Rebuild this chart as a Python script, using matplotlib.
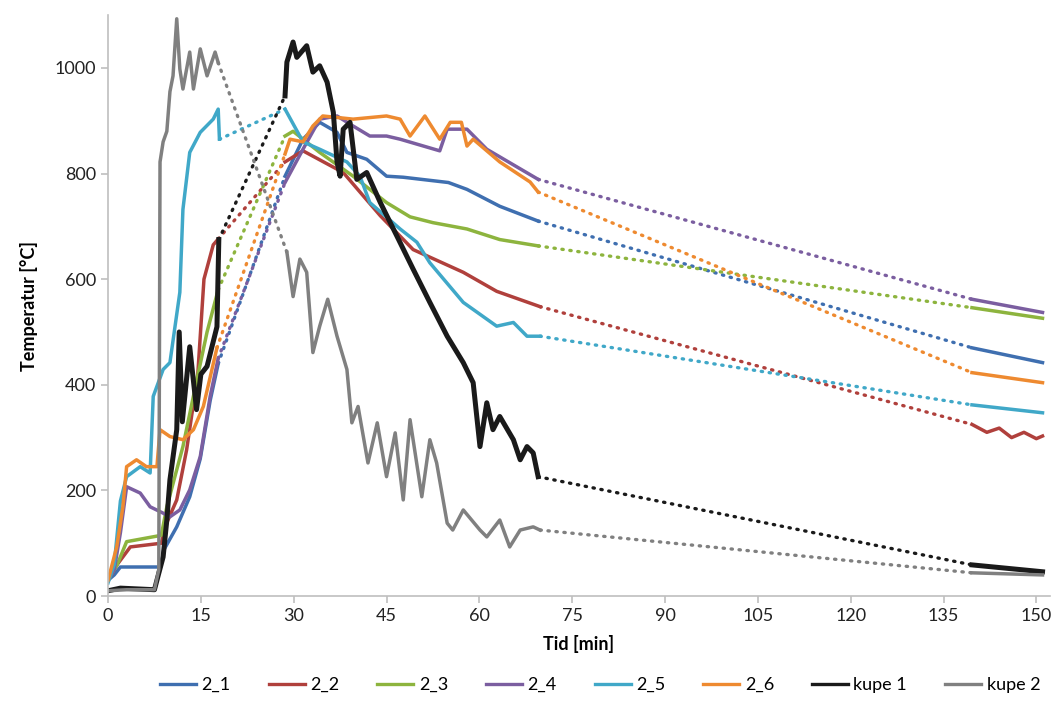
import numpy as np
import matplotlib
matplotlib.use("Agg")
import matplotlib.pyplot as plt
from matplotlib.lines import Line2D

nan = np.nan

# Tid [min] og temperatur [°C] per serie, nan = brudd mellom maaleperioder
t_21 = [0, 1, 2, 8.5, 9, 11.1, 13.2, 14.9, 16.5, 17.8, nan,
        28.6, 31.5, 34.2, 37, 38.6, 41.8, 45, 47.7, 55, 58, 63.3, 69.5, nan, 139.6, 151]
T_21 = [30, 40, 55, 55, 87, 131, 188, 260, 370, 440, nan,
        795, 865, 897, 878, 840, 827, 795, 793, 783, 770, 738, 710, nan, 470, 442]

t_22 = [0, 1.5, 3.6, 8.6, 9.5, 11.1, 12.7, 14.5, 15.5, 17, 17.8, nan,
        28.6, 31.5, 38, 44, 49.3, 57.4, 62.8, 69.8, nan,
        139.6, 142, 144, 146, 148, 150, 151]
T_22 = [30, 60, 93, 100, 139, 182, 277, 420, 600, 665, 676, nan,
        822, 843, 802, 720, 656, 613, 577, 548, nan,
        325, 310, 318, 300, 310, 298, 303]

t_23 = [0, 1.5, 3, 8.6, 9.5, 12.1, 14, 16, 17.8, nan,
        28.6, 29.9, 34.2, 39.6, 45, 48.8, 52.5, 58, 63.3, 69.5, nan, 139.6, 151]
T_23 = [30, 60, 103, 115, 169, 283, 390, 500, 580, nan,
        871, 880, 840, 795, 745, 718, 707, 695, 675, 663, nan, 546, 526]

t_24 = [0, 1, 2, 3, 5.2, 6.8, 8.9, 10, 11.6, 13.2, 14.9, 16.5, 17.8, nan,
        28.6, 31.5, 34.2, 37, 39.6, 42.3, 45, 47.2, 53.6, 54.8, 58, 61.2, 69.5, nan,
        139.6, 151]
T_24 = [30, 50, 120, 207, 195, 169, 157, 150, 163, 201, 264, 378, 450, nan,
        783, 846, 903, 909, 890, 871, 871, 865, 843, 884, 884, 846, 789, nan,
        562, 537]

t_25 = [0, 1, 2, 3, 5.2, 6.8, 7.3, 8.9, 10, 11.6, 12.1, 13.2, 14.9, 17, 17.8, 18, nan,
        28.6, 31.5, 34.2, 38.6, 40.7, 42.3, 47.2, 49.9, 52, 57.4, 62.8, 65.5, 67.7, 69.8, nan,
        139.6, 151]
T_25 = [25, 60, 180, 226, 245, 233, 378, 429, 442, 575, 732, 840, 878, 903, 922, 865, nan,
        922, 860, 846, 822, 795, 745, 695, 670, 631, 556, 511, 518, 492, 492, nan,
        362, 347]

t_26 = [0, 1.4, 2.4, 3, 4.6, 6.2, 7.9, 8.4, 10, 12.1, 13.8, 15.4, 17.6, nan,
        28.6, 29.4, 31.5, 33.1, 34.7, 39.6, 45, 47.2, 48.8, 51.2, 53.6, 55.3, 57.1, 58, 59,
        63.3, 68.2, 69.5, nan, 139.6, 151]
T_26 = [30, 93, 169, 245, 258, 245, 245, 315, 302, 296, 315, 359, 470, nan,
        837, 865, 860, 890, 909, 903, 909, 903, 871, 909, 865, 897, 897, 852, 865,
        822, 784, 765, nan, 423, 404]

t_k1 = [0, 2, 7.5, 7.9, 8.9, 9.5, 10, 11.1, 11.5, 12, 13.2, 14.3, 15, 16, 17.6, 17.9, nan,
        28.6, 28.9, 29.9, 30.5, 32.1, 33.1, 34.2, 35.4, 36.4, 37, 37.5, 38, 39.1, 40.2,
        41.8, 44, 46.7, 49.3, 52, 54.8, 57.4, 59, 60.1, 61.2, 62.2, 63.3, 65.5, 66.6,
        67.7, 68.7, 69.5, nan, 139.6, 151]
T_k1 = [10, 15, 12, 30, 74, 144, 220, 315, 500, 330, 472, 353, 420, 435, 510, 675, nan,
        947, 1011, 1049, 1020, 1042, 992, 1004, 973, 916, 822, 795, 884, 897, 789,
        802, 745, 681, 619, 556, 492, 442, 404, 283, 366, 315, 340, 296, 258,
        283, 271, 226, nan, 59, 46]

t_k2 = [0, 3, 7.5, 8.2, 8.4, 8.9, 9.5, 10, 10.5, 11.1, 11.6, 12.1, 13.2, 13.8, 14.9, 16,
        17.3, 17.8, nan,
        28.9, 29.9, 31, 32.1, 33.1, 34.2, 35.5, 37, 38.6, 39.4, 40.4, 42, 43.5, 45, 46.4,
        47.7, 48.8, 50.7, 52, 53.1, 54.8, 55.7, 57.4, 60.1, 61.2, 63.3, 64.9, 66.6, 68.7,
        69.8, nan, 139.6, 151]
T_k2 = [10, 12, 12, 50, 822, 860, 880, 955, 985, 1093, 998, 960, 1030, 960, 1036, 985,
        1030, 1010, nan,
        651, 567, 638, 613, 461, 511, 562, 492, 429, 328, 359, 252, 328, 226, 309,
        182, 334, 188, 296, 252, 138, 125, 163, 125, 112, 144, 93, 125, 131,
        125, nan, 44, 40]

labels = ["2_1", "2_2", "2_3", "2_4", "2_5", "2_6", "kupe 1", "kupe 2"]
colors = ["#3F6FB0", "#B0403C", "#8DB43E", "#7B5EA0", "#40A8C8", "#EE8A30", "#1A1A1A", "#808080"]
serier = [(t_21, T_21), (t_22, T_22), (t_23, T_23), (t_24, T_24),
          (t_25, T_25), (t_26, T_26), (t_k1, T_k1), (t_k2, T_k2)]

plt.rcParams['font.family'] = ['Lato', 'DejaVu Sans']

fig = plt.figure(figsize=(10.51, 7.19), dpi=100)
ax = fig.add_axes([0.1028, 0.171, 0.8962, 0.808])


def del_opp(t, T):
    # del serien i sammenhengende biter ved nan
    t = np.array(t, dtype=float)
    T = np.array(T, dtype=float)
    brudd = np.where(np.isnan(t))[0]
    biter = []
    start = 0
    for b in list(brudd) + [len(t)]:
        biter.append((t[start:b], T[start:b]))
        start = b + 1
    return biter


for (t, T), farge in zip(serier, colors):
    biter = del_opp(t, T)
    # prikkete linjer mellom bitene
    for a, b in zip(biter[:-1], biter[1:]):
        ax.plot([a[0][-1], b[0][0]], [a[1][-1], b[1][0]], color=farge, lw=2.4,
                linestyle=(0, (0.4, 2.0)), dash_capstyle='round')
    for bt, bT in biter:
        lw = 3.6 if farge == "#1A1A1A" else 2.5
        ax.plot(bt, bT, color=farge, lw=lw, solid_joinstyle='round')

ax.set_xlim(0, 152.2)
ax.set_ylim(0, 1100)
ax.set_xticks(np.arange(0, 151, 15))
ax.set_yticks(np.arange(0, 1001, 200))
for s in ["top", "right"]:
    ax.spines[s].set_visible(False)
for s in ["left", "bottom"]:
    ax.spines[s].set_color("#BFBFBF")
    ax.spines[s].set_linewidth(1.2)
ax.tick_params(axis="both", colors="#BFBFBF", length=5, width=1.2, labelsize=13,
               labelcolor="#222222")
ax.set_xlabel("Tid [min]", fontsize=13, fontweight="bold", labelpad=8)
ax.set_ylabel("Temperatur [°C]", fontsize=13, fontweight="bold", labelpad=12)

handles = [Line2D([0], [0], color=c, lw=2.4) for c in colors]
fig.legend(handles, labels, loc="center", bbox_to_anchor=(0.571, 0.047), ncol=8,
           frameon=False, fontsize=13, handlelength=2.0, handletextpad=0.3,
           columnspacing=2.1)

fig.savefig("out.png", dpi=100)
